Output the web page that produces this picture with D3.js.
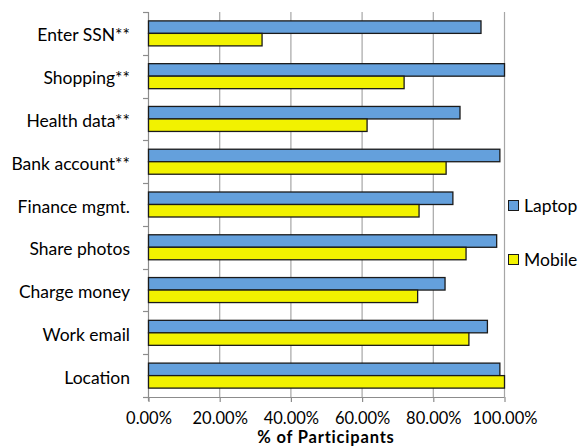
<!DOCTYPE html>
<html>
<head>
<meta charset="utf-8">
<script src="https://cdn.jsdelivr.net/npm/d3@7"></script>
<style>
  html, body { margin: 0; padding: 0; background: #fff; }
  svg { display: block; }
  text { font-family: Lato, "Open Sans", sans-serif; fill: #000; }
</style>
</head>
<body>
<svg id="chart" width="582" height="447"></svg>
<script>
const categories = ["Enter SSN**", "Shopping**", "Health data**", "Bank account**", "Finance mgmt.", "Share photos", "Charge money", "Work email", "Location"];
const seriesNames = ["Laptop", "Mobile"];
const laptopValues = [0.934, 1.000, 0.875, 0.987, 0.855, 0.978, 0.833, 0.952, 0.987];
const mobileValues = [0.319, 0.718, 0.614, 0.836, 0.760, 0.892, 0.756, 0.900, 1.000];
const tickValues = [0, 0.2, 0.4, 0.6, 0.8, 1.0];
const tickLabels = ["0.00%", "20.00%", "40.00%", "60.00%", "80.00%", "100.00%"];
const axisTitle = "% of Participants";
const colors = ["#64a0dc", "#f2f200"];

const svg = d3.select("#chart");
const pLeft = 148, pRight = 504, pTop = 12, pBottom = 397;

const x = d3.scaleLinear().domain([0, 1]).range([pLeft, pRight]);
const y0 = d3.scaleBand().domain(categories).range([pTop, pBottom]).paddingInner(0.4156).paddingOuter(0.2078);
const y1 = d3.scaleBand().domain(seriesNames).range([0, y0.bandwidth()]);
const step = y0.step();

// gridlines
svg.append("g").selectAll("line").data(tickValues.slice(1)).join("line")
  .attr("x1", d => x(d) + 0.5).attr("x2", d => x(d) + 0.5)
  .attr("y1", pTop).attr("y2", pBottom)
  .attr("stroke", "#a6a6a6").attr("stroke-width", 1.2);

// bottom axis
const xAxis = d3.axisBottom(x).tickValues(tickValues).tickSize(5).tickFormat((d, i) => tickLabels[i]);
const gx = svg.append("g").attr("transform", `translate(0.5,${pBottom})`).call(xAxis);
gx.select(".domain").attr("stroke", "#8c8c8c").attr("stroke-width", 1.2).attr("d", `M${pLeft},0.5H${pRight}`);
gx.selectAll(".tick line").attr("stroke", "#8c8c8c").attr("stroke-width", 1.2);
gx.selectAll(".tick text").attr("font-size", 16.5).attr("font-family", "Lato").attr("y", 26.5).attr("dy", 0).attr("fill", "#000");

// left axis with boundary ticks
const boundaries = d3.range(categories.length + 1).map(i => pTop + i * step);
svg.append("line").attr("x1", pLeft + 0.5).attr("x2", pLeft + 0.5).attr("y1", pTop).attr("y2", pBottom + 4)
  .attr("stroke", "#8c8c8c").attr("stroke-width", 1.2);
svg.append("g").selectAll("line").data(boundaries).join("line")
  .attr("x1", pLeft - 5).attr("x2", pLeft + 0.5)
  .attr("y1", d => Math.round(d) + 0.5).attr("y2", d => Math.round(d) + 0.5)
  .attr("stroke", "#8c8c8c").attr("stroke-width", 1.2);

// category labels
svg.append("g").selectAll("text").data(categories).join("text")
  .attr("x", 130).attr("y", d => y0(d) + y0.bandwidth() / 2 + 8)
  .attr("text-anchor", "end").attr("font-size", 17.5)
  .text(d => d);

// bars
const rows = categories.map((c, i) => ({ c, vals: [laptopValues[i], mobileValues[i]] }));
const g = svg.append("g").selectAll("g").data(rows).join("g")
  .attr("transform", d => `translate(0,${y0(d.c)})`);
g.selectAll("rect").data(d => d.vals.map((v, j) => ({ s: seriesNames[j], v, j }))).join("rect")
  .attr("x", x(0) + 0.5)
  .attr("y", d => y1(d.s))
  .attr("width", d => x(d.v) - x(0))
  .attr("height", y1.bandwidth())
  .attr("fill", d => colors[d.j])
  .attr("stroke", "#1a1a1a").attr("stroke-width", 1.3);

// axis title
svg.append("text").attr("x", (pLeft + pRight) / 2).attr("y", 443.3)
  .attr("text-anchor", "middle").attr("font-size", 16.5).attr("font-weight", "bold")
  .attr("letter-spacing", 0.8)
  .text(axisTitle);

// legend
const legendY = [200, 254];
const lg = svg.append("g").selectAll("g").data(seriesNames).join("g")
  .attr("transform", (d, i) => `translate(508,${legendY[i]})`);
lg.append("rect").attr("x", 0.5).attr("y", 0.5).attr("width", 10).attr("height", 10)
  .attr("fill", (d, i) => colors[i]).attr("stroke", "#1a1a1a").attr("stroke-width", 1);
lg.append("text").attr("x", 16).attr("y", 11.5).attr("font-size", 17.5).text(d => d);
</script>
</body>
</html>
